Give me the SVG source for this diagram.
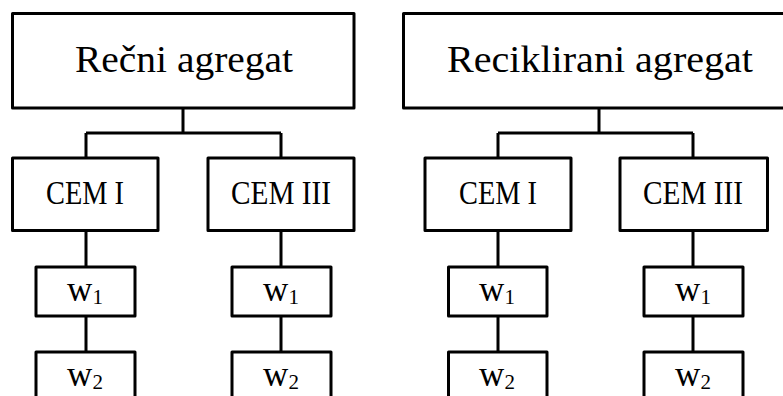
<svg xmlns="http://www.w3.org/2000/svg" width="783" height="396" viewBox="0 0 783 396">
<style>
.box{fill:#fff;stroke:#000;stroke-width:3;stroke-linejoin:round}
.ln{fill:none;stroke:#000;stroke-width:3}
text{font-family:"Liberation Serif","DejaVu Serif",serif;fill:#000;text-anchor:middle}
.t1{font-size:38px}
.t2{font-size:33px}
.t3{font-size:35px}
.sub{font-size:21px}
</style>
<rect width="783" height="396" fill="#fff"/>
<g id="connectors">
<path class="ln" d="M183,108V133M86,133H281M86,133V158M281,133V158"/>
<path class="ln" d="M86,231V267M86,316V352M281,231V267M281,316V352"/>
<path class="ln" d="M599,108V133M498,133H693M498,133V158M693,133V158"/>
<path class="ln" d="M498,231V267M498,316V352M693,231V267M693,316V352"/>
</g>
<g id="n-recni">
<rect class="box" x="12.5" y="13.5" width="341.5" height="94.5"/>
<text class="t1" x="184" y="71.5" textLength="218" lengthAdjust="spacingAndGlyphs">Rečni agregat</text>
</g>
<g id="n-reciklirani">
<rect class="box" x="403.5" y="13.5" width="400" height="94.5"/>
<text class="t1" x="600" y="71.5" textLength="306" lengthAdjust="spacingAndGlyphs">Reciklirani agregat</text>
</g>
<g id="n-l-cem1">
<rect class="box" x="12.5" y="158" width="145.5" height="72.5"/>
<text class="t2" x="85" y="204" textLength="78" lengthAdjust="spacingAndGlyphs">CEM I</text>
</g>
<g id="n-l-cem3">
<rect class="box" x="208" y="158" width="146" height="72.5"/>
<text class="t2" x="281" y="204" textLength="100" lengthAdjust="spacingAndGlyphs">CEM III</text>
</g>
<g id="n-r-cem1">
<rect class="box" x="425" y="158" width="146" height="72.5"/>
<text class="t2" x="498" y="204" textLength="78" lengthAdjust="spacingAndGlyphs">CEM I</text>
</g>
<g id="n-r-cem3">
<rect class="box" x="620" y="158" width="147.5" height="72.5"/>
<text class="t2" x="693" y="204" textLength="100" lengthAdjust="spacingAndGlyphs">CEM III</text>
</g>
<g id="n-l1-w1">
<rect class="box" x="36" y="267" width="99" height="49"/>
<text class="t3" x="85" y="301">w<tspan class="sub" dy="3">1</tspan></text>
</g>
<g id="n-l1-w2">
<rect class="box" x="36" y="352" width="99" height="60"/>
<text class="t3" x="85" y="386">w<tspan class="sub" dy="3">2</tspan></text>
</g>
<g id="n-l2-w1">
<rect class="box" x="232" y="267" width="99" height="49"/>
<text class="t3" x="281" y="301">w<tspan class="sub" dy="3">1</tspan></text>
</g>
<g id="n-l2-w2">
<rect class="box" x="232" y="352" width="99" height="60"/>
<text class="t3" x="281" y="386">w<tspan class="sub" dy="3">2</tspan></text>
</g>
<g id="n-r1-w1">
<rect class="box" x="448.5" y="267" width="98.5" height="49"/>
<text class="t3" x="497" y="301">w<tspan class="sub" dy="3">1</tspan></text>
</g>
<g id="n-r1-w2">
<rect class="box" x="448.5" y="352" width="98.5" height="60"/>
<text class="t3" x="497" y="386">w<tspan class="sub" dy="3">2</tspan></text>
</g>
<g id="n-r2-w1">
<rect class="box" x="644" y="267" width="99" height="49"/>
<text class="t3" x="693" y="301">w<tspan class="sub" dy="3">1</tspan></text>
</g>
<g id="n-r2-w2">
<rect class="box" x="644" y="352" width="99" height="60"/>
<text class="t3" x="693" y="386">w<tspan class="sub" dy="3">2</tspan></text>
</g>
</svg>
